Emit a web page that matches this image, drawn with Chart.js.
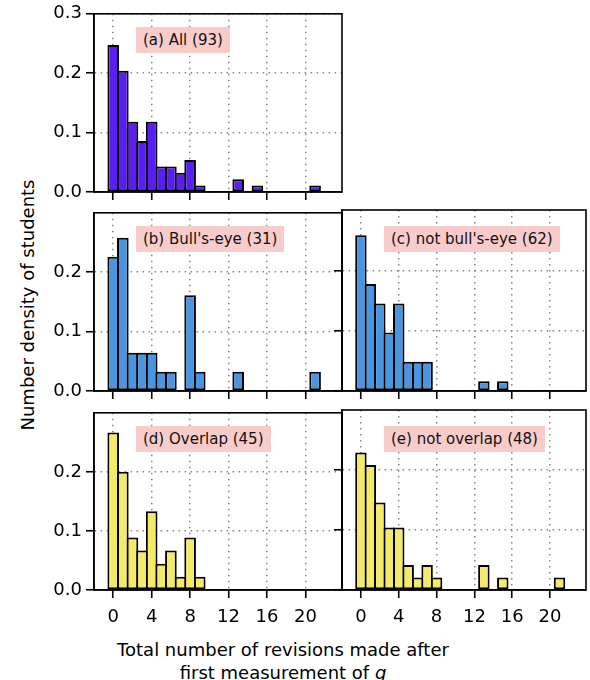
<!DOCTYPE html>
<html>
<head>
<meta charset="utf-8">
<script src="https://cdn.jsdelivr.net/npm/chart.js@4.4.1/dist/chart.umd.min.js"></script>
<style>
  html, body { margin: 0; padding: 0; background: #fff; }
  body { width: 590px; height: 680px; position: relative; overflow: hidden; font-family: "DejaVu Sans", sans-serif; color: #000; }
  canvas { position: absolute; }
  .tag { position: absolute; background: #f9cccc; font-size: 15px; line-height: 18px; padding: 4px 7px; white-space: nowrap; color: #111; }
  .ylab { position: absolute; font-size: 18px; white-space: nowrap; transform: translate(-50%, -50%) rotate(-90deg); }
  .xlab { position: absolute; font-size: 18px; line-height: 23px; text-align: center; white-space: nowrap; transform: translateX(-50%); }
</style>
</head>
<body>
<div class="ylab" style="left:27px; top:305px;">Number density of students</div>
<div class="xlab" style="left:283px; top:638px;">Total number of revisions made after<br>first measurement of <i>g</i></div>

<script>
// ===== Data =====
const bins   = [0, 1, 2, 3, 4, 5, 6, 7, 8, 9, 10, 11, 12, 13, 14, 15, 16, 17, 18, 19, 20, 21];
const xTicks = [0, 4, 8, 12, 16, 20];
const yTicksTop   = [0, 0.1, 0.2, 0.3];   // panel (a)
const yTicksLower = [0, 0.1, 0.2];        // panels (b)-(e)

// student counts per number of revisions
const countsAll        = [23, 19, 11, 8, 11, 4, 4, 3, 5, 1, 0, 0, 0, 2, 0, 1, 0, 0, 0, 0, 0, 1];
const countsBullseye   = [7, 8, 2, 2, 2, 1, 1, 0, 5, 1, 0, 0, 0, 1, 0, 0, 0, 0, 0, 0, 0, 1];
const countsNotBulls   = [16, 11, 9, 6, 9, 3, 3, 3, 0, 0, 0, 0, 0, 1, 0, 1, 0, 0, 0, 0, 0, 0];
const countsOverlap    = [12, 9, 4, 3, 6, 2, 3, 1, 4, 1, 0, 0, 0, 0, 0, 0, 0, 0, 0, 0, 0, 0];
const countsNotOverlap = [11, 10, 7, 5, 5, 2, 1, 2, 1, 0, 0, 0, 0, 2, 0, 1, 0, 0, 0, 0, 0, 1];

const panelLabels = ['(a) All (93)', "(b) Bull's-eye (31)", "(c) not bull's-eye (62)", '(d) Overlap (45)', '(e) not overlap (48)'];
const panelN      = [93, 31, 62, 45, 48];

// ===== Layout =====
const ML = 70, MR = 12, MT = 12, MB = 40;   // canvas margins round each plot area
const FONT = { family: 'DejaVu Sans', size: 18 };

const panels = [
  { counts: countsAll,        color: '#5b1ef2', box: [94, 11, 248, 181],  yTicks: yTicksTop,   xLab: false, yLab: true  },
  { counts: countsBullseye,   color: '#4a95e0', box: [94, 210, 248, 181], yTicks: yTicksLower, xLab: false, yLab: true  },
  { counts: countsNotBulls,   color: '#4a95e0', box: [342, 210, 244, 181], yTicks: yTicksLower, xLab: false, yLab: false },
  { counts: countsOverlap,    color: '#f4ea6a', box: [94, 410, 248, 180], yTicks: yTicksLower, xLab: true,  yLab: true  },
  { counts: countsNotOverlap, color: '#f4ea6a', box: [342, 410, 244, 180], yTicks: yTicksLower, xLab: true,  yLab: false }
];

// axes frame drawn over the bars, like matplotlib spines
const framePlugin = {
  id: 'frame',
  afterDatasetsDraw(chart) {
    const { ctx, chartArea: a } = chart;
    ctx.save();
    ctx.strokeStyle = '#000';
    ctx.lineWidth = 1.6;
    ctx.strokeRect(a.left, a.top, a.right - a.left, a.bottom - a.top);
    ctx.restore();
  }
};

function gridOpts() {
  return { offset: false, color: '#858585', lineWidth: 1.5, drawTicks: true, tickLength: 8, tickColor: '#000', tickWidth: 1.6, tickBorderDash: [] };
}

panels.forEach((p, i) => {
  const [left, top, w, h] = p.box;
  const canvas = document.createElement('canvas');
  canvas.width  = w + ML + MR;
  canvas.height = h + MT + MB;
  canvas.style.left = (left - ML) + 'px';
  canvas.style.top  = (top - MT) + 'px';
  document.body.appendChild(canvas);

  const tag = document.createElement('div');
  tag.className = 'tag';
  tag.textContent = panelLabels[i];
  tag.style.left = (left + 42) + 'px';
  tag.style.top  = (top + 16) + 'px';
  document.body.appendChild(tag);

  const n = panelN[i];
  const data = bins.map((b, k) => ({ x: b, y: p.counts[k] ? p.counts[k] / n : null }));

  new Chart(canvas.getContext('2d'), {
    type: 'bar',
    data: {
      datasets: [{
        data,
        backgroundColor: p.color,
        borderColor: '#000',
        borderWidth: 2,
        borderSkipped: false,
        inflateAmount: 0,
        barPercentage: 1.21,
        categoryPercentage: 1
      }]
    },
    options: {
      responsive: false, animation: false, devicePixelRatio: 1,
      layout: { padding: { top: MT, right: MR, left: 0, bottom: 0 } },
      plugins: { legend: { display: false }, tooltip: { enabled: false } },
      scales: {
        x: {
          type: 'linear', min: -2.0, max: 23.8, offset: false,
          afterBuildTicks: s => { s.ticks = xTicks.map(v => ({ value: v })); },
          afterFit: s => { s.height = MB; },
          grid: gridOpts(),
          border: { display: true, color: '#000', width: 1.6, dash: [1.5, 4.5] },
          ticks: { display: p.xLab, color: '#000', font: FONT, padding: 9, maxRotation: 0, autoSkip: false, callback: v => String(v) }
        },
        y: {
          type: 'linear', min: 0, max: 0.3, offset: false,
          afterBuildTicks: s => { s.ticks = p.yTicks.map(v => ({ value: v })); },
          afterFit: s => { s.width = ML; },
          grid: gridOpts(),
          border: { display: true, color: '#000', width: 1.6, dash: [1.5, 4.5] },
          ticks: { display: p.yLab, color: '#000', font: FONT, padding: 4, callback: v => v.toFixed(1) }
        }
      }
    },
    plugins: [framePlugin]
  });
});
</script>
</body>
</html>
